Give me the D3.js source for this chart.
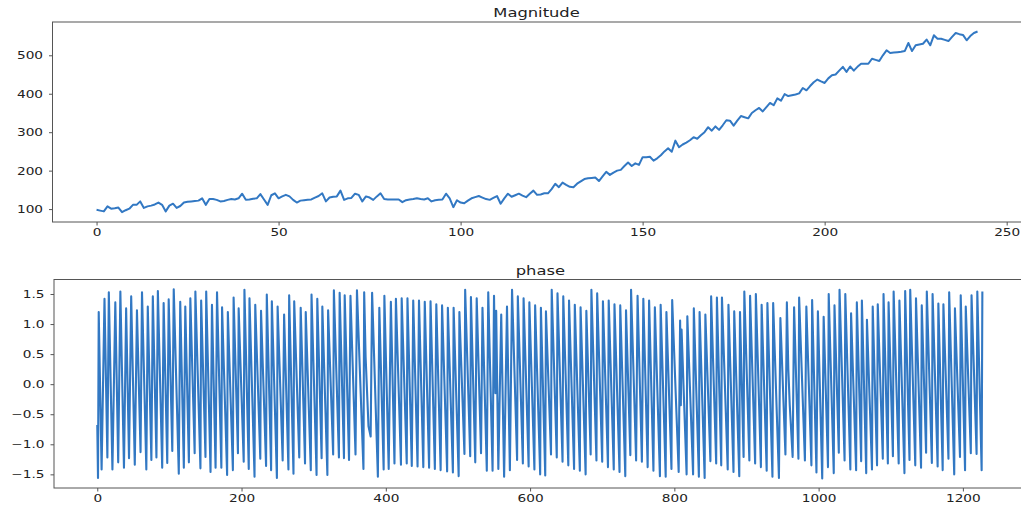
<!DOCTYPE html>
<html>
<head>
<meta charset="utf-8">
<script src="https://cdn.jsdelivr.net/npm/d3@7"></script>
<style>
  body { margin: 0; background: #fff; }
  svg text { font-family: "DejaVu Sans", sans-serif; fill: #222; }
</style>
</head>
<body>
<div id="chart"></div>
<script>
// Magnitude, one value per sample index 0..242
const magnitude = [
  98, 96, 94, 107, 101, 102, 104, 92, 97, 101,
  111, 111, 120, 103, 107, 109, 112, 117, 111, 94,
  109, 114, 103, 108, 117, 119, 120, 121, 122, 128,
  111, 126, 126, 124, 120, 121, 124, 126, 125, 128,
  140, 124, 125, 127, 128, 139, 125, 111, 136, 141,
  128, 133, 137, 133, 124, 117, 122, 123, 124, 125,
  130, 134, 141, 120, 130, 132, 133, 148, 124, 128,
  129, 140, 137, 120, 133, 130, 124, 133, 141, 126,
  125, 125, 125, 125, 118, 123, 125, 126, 128, 126,
  125, 128, 120, 123, 124, 125, 140, 128, 105, 123,
  117, 115, 122, 128, 131, 134, 130, 126, 124, 129,
  134, 114, 128, 140, 132, 136, 140, 135, 131, 140,
  148, 137, 138, 141, 141, 152, 166, 157, 169, 163,
  158, 157, 166, 172, 178, 180, 181, 182, 173, 185,
  197, 189, 195, 200, 202, 212, 221, 212, 219, 215,
  235, 235, 236, 226, 232, 240, 250, 258, 249, 278,
  261, 268, 273, 279, 287, 283, 292, 300, 313, 304,
  315, 306, 318, 331, 330, 317, 330, 342, 339, 336,
  350, 357, 363, 354, 365, 376, 370, 388, 382, 399,
  394, 396, 398, 401, 415, 409, 420, 430, 437, 432,
  428, 440, 448, 450, 460, 470, 457, 471, 460, 470,
  478, 478, 478, 491, 488, 485, 500, 513, 506, 507,
  508, 509, 511, 532, 511, 526, 528, 530, 541, 526,
  552, 543, 543, 540, 537, 548, 558, 555, 553, 539,
  550, 558, 562
];

const phaseX = [
  0, 1, 2, 6, 10, 14, 16, 21, 25, 29,
  32, 37, 40, 44, 47, 52, 55, 60, 62, 68,
  70, 75, 77, 82, 84, 90, 92, 97, 99, 104,
  106, 113, 115, 120, 122, 127, 129, 135, 136, 143,
  144, 150, 151, 157, 159, 164, 166, 172, 173, 180,
  181, 188, 189, 195, 196, 203, 204, 210, 211, 218,
  219, 226, 227, 234, 235, 241, 242, 249, 250, 257,
  259, 265, 266, 272, 273, 280, 282, 288, 289, 296,
  297, 304, 305, 311, 312, 319, 320, 327, 328, 335,
  336, 342, 343, 349, 351, 358, 360, 369, 370, 372,
  376, 379, 381, 389, 391, 397, 398, 404, 407, 412,
  414, 421, 422, 429, 430, 436, 438, 444, 446, 452,
  454, 460, 462, 468, 470, 476, 478, 485, 486, 493,
  494, 501, 502, 509, 510, 517, 518, 524, 526, 532,
  534, 540, 542, 548, 550, 552, 553, 556, 560, 564,
  568, 572, 575, 582, 583, 590, 591, 598, 599, 606,
  607, 614, 615, 621, 622, 629, 630, 637, 638, 645,
  646, 653, 654, 661, 662, 669, 670, 677, 678, 684,
  685, 692, 693, 700, 701, 708, 709, 716, 717, 724,
  725, 732, 733, 739, 740, 747, 749, 755, 757, 763,
  765, 771, 773, 780, 781, 788, 789, 796, 797, 806,
  808, 809, 810, 817, 818, 826, 827, 834, 835, 842,
  843, 850, 851, 858, 859, 865, 866, 874, 875, 882,
  883, 890, 891, 896, 897, 904, 905, 912, 913, 920,
  921, 928, 929, 936, 937, 945, 947, 954, 956, 958,
  960, 964, 966, 972, 973, 981, 983, 990, 991, 997,
  999, 1005, 1007, 1013, 1014, 1021, 1022, 1028, 1029, 1036,
  1037, 1044, 1045, 1052, 1053, 1059, 1060, 1066, 1067, 1074,
  1075, 1081, 1082, 1089, 1090, 1096, 1097, 1103, 1104, 1111,
  1112, 1119, 1120, 1126, 1127, 1134, 1135, 1142, 1143, 1149,
  1150, 1157, 1158, 1165, 1166, 1172, 1173, 1180, 1181, 1188,
  1189, 1196, 1197, 1203, 1204, 1211, 1212, 1219, 1220, 1226,
  1227
];
// ...and its value there
const phaseY = [
  -0.68, -1.56, 1.20, -1.42, 1.42, -1.22, 1.53, -1.42, 1.36, -1.30,
  1.54, -1.39, 1.26, -1.23, 1.46, -1.34, 1.23, -1.13, 1.53, -1.42,
  1.29, -1.26, 1.46, -1.22, 1.55, -1.39, 1.35, -1.31, 1.41, -1.11,
  1.58, -1.49, 1.37, -1.39, 1.29, -1.30, 1.43, -1.15, 1.54, -1.40,
  1.39, -1.21, 1.54, -1.46, 1.32, -1.39, 1.53, -1.39, 1.28, -1.51,
  1.20, -1.43, 1.44, -1.15, 1.26, -1.29, 1.57, -1.41, 1.43, -1.54,
  1.32, -1.24, 1.22, -1.36, 1.49, -1.43, 1.38, -1.56, 1.29, -1.27,
  1.16, -1.42, 1.48, -1.49, 1.38, -1.22, 1.27, -1.32, 1.20, -1.43,
  1.49, -1.51, 1.42, -1.23, 1.29, -1.51, 1.23, -1.17, 1.56, -1.22,
  1.52, -1.23, 1.48, -1.26, 1.47, -1.17, 1.56, -1.41, 1.53, 0.45,
  -0.70, -0.87, 1.52, -1.54, 1.27, -1.42, 1.47, -1.41, 1.37, -1.32,
  1.42, -1.34, 1.43, -1.32, 1.43, -1.36, 1.39, -1.37, 1.39, -1.38,
  1.37, -1.39, 1.38, -1.41, 1.33, -1.43, 1.31, -1.45, 1.27, -1.47,
  1.27, -1.53, 1.20, -1.16, 1.57, -1.20, 1.45, -1.30, 1.43, -1.15,
  1.27, -1.44, 1.53, -1.44, 1.47, -0.15, 1.22, -1.41, 1.16, -1.54,
  1.29, -1.43, 1.57, -1.26, 1.46, -1.32, 1.43, -1.37, 1.36, -1.42,
  1.31, -1.50, 1.27, -1.52, 1.21, -1.17, 1.57, -1.22, 1.51, -1.29,
  1.46, -1.35, 1.39, -1.41, 1.32, -1.44, 1.28, -1.50, 1.22, -1.17,
  1.57, -1.27, 1.51, -1.29, 1.38, -1.38, 1.39, -1.42, 1.33, -1.46,
  1.31, -1.53, 1.23, -1.18, 1.57, -1.27, 1.47, -1.29, 1.42, -1.38,
  1.39, -1.44, 1.28, -1.53, 1.32, -1.54, 1.20, -1.41, 1.40, -1.46,
  1.06, -0.35, 0.91, -1.50, 1.13, -1.50, 1.26, -1.54, 1.20, -1.56,
  1.16, -1.28, 1.46, -1.32, 1.44, -1.35, 1.44, -1.42, 1.32, -1.46,
  1.21, -1.53, 1.20, -1.21, 1.54, -1.27, 1.47, -1.32, 1.50, -1.38,
  1.32, -1.44, 1.35, -1.54, 1.35, -1.56, 1.10, -1.17, 1.36, 0.25,
  -0.35, -1.21, 1.28, -1.24, 1.44, -1.27, 1.29, -1.35, 1.40, -1.47,
  1.21, -1.57, 1.12, -1.38, 1.50, -1.48, 1.31, -1.14, 1.57, -1.27,
  1.50, -1.42, 1.18, -1.43, 1.36, -1.28, 1.39, -1.48, 1.07, -1.42,
  1.29, -1.35, 1.33, -1.24, 1.50, -1.32, 1.36, -1.20, 1.54, -1.32,
  1.39, -1.48, 1.55, -1.26, 1.57, -1.35, 1.43, -1.39, 1.31, -1.14,
  1.54, -1.31, 1.50, -1.37, 1.34, -1.43, 1.33, -1.24, 1.53, -1.50,
  1.26, -1.21, 1.48, -1.43, 1.29, -1.15, 1.48, -1.16, 1.54, -1.43,
  1.54
];

const magXTicks = [0, 50, 100, 150, 200, 250];
const magYTicks = [100, 200, 300, 400, 500];
const phaseXTicks = [0, 200, 400, 600, 800, 1000, 1200];
const phaseYTicks = [-1.5, -1.0, -0.5, 0.0, 0.5, 1.0, 1.5];

const width = 1021, height = 505;
const lineColor = "#3278c3";
const stretchK = 1.3;

const svg = d3.select("#chart").append("svg")
  .attr("width", width)
  .attr("height", height);

// widen text horizontally like the (stretched) reference
function stretch(sel, k) {
  sel.each(function() {
    const w = this.getComputedTextLength();
    d3.select(this).attr("textLength", w * k).attr("lengthAdjust", "spacingAndGlyphs");
  });
}

function panel(opts) {
  const { left, right, top, bottom, xDomain, yDomain, xTicks, yTicks, yFmt, title, points, id, lw } = opts;
  const x = d3.scaleLinear().domain(xDomain).range([left, right]);
  const y = d3.scaleLinear().domain(yDomain).range([bottom, top]);

  svg.append("clipPath").attr("id", id)
    .append("rect")
    .attr("x", left).attr("y", top)
    .attr("width", right - left).attr("height", bottom - top);

  const line = d3.line().x(d => x(d[0])).y(d => y(d[1]));
  svg.append("path")
    .datum(points)
    .attr("clip-path", `url(#${id})`)
    .attr("fill", "none")
    .attr("stroke", lineColor)
    .attr("stroke-width", lw)
    .attr("stroke-linejoin", "round")
    .attr("d", line);

  // frame
  svg.append("rect")
    .attr("x", left).attr("y", top)
    .attr("width", right - left).attr("height", bottom - top)
    .attr("fill", "none")
    .attr("stroke", "#555")
    .attr("stroke-width", 1);

  const gx = svg.append("g")
    .attr("transform", `translate(0,${bottom})`)
    .call(d3.axisBottom(x).tickValues(xTicks).tickSize(3.5).tickPadding(3.5).tickSizeOuter(0).tickFormat(d3.format("d")));
  const gy = svg.append("g")
    .attr("transform", `translate(${left},0)`)
    .call(d3.axisLeft(y).tickValues(yTicks).tickSize(3.5).tickPadding(6).tickSizeOuter(0).tickFormat(yFmt));

  [gx, gy].forEach(g => {
    g.select(".domain").remove();
    g.selectAll(".tick line").attr("stroke", "#555");
    g.selectAll("text")
      .attr("fill", "#222")
      .style("font-family", "DejaVu Sans")
      .style("font-size", "10.5px");
  });
  stretch(gx.selectAll("text"), stretchK);
  stretch(gy.selectAll("text"), stretchK);

  const t = svg.append("text")
    .attr("x", (left + right) / 2 - 0.5)
    .attr("y", top - 5)
    .attr("text-anchor", "middle")
    .style("font-size", "12px")
    .text(title);
  stretch(t, 1.36);
}

panel({
  id: "clipMag",
  left: 52.5, right: 1021.6, top: 22, bottom: 222,
  xDomain: [-12.1, 254.1], yDomain: [66.4, 586.6],
  xTicks: magXTicks, yTicks: magYTicks,
  yFmt: d3.format("d"),
  title: "Magnitude",
  lw: 2,
  points: magnitude.map((v, i) => [i, v])
});

panel({
  id: "clipPhase",
  left: 54, right: 1027.8, top: 279.5, bottom: 488,
  xDomain: [-60, 1290], yDomain: [-1.727, 1.741],
  xTicks: phaseXTicks, yTicks: phaseYTicks,
  yFmt: d => d.toFixed(1).replace("-", "\u2212"),
  title: "phase",
  lw: 2.1,
  points: d3.zip(phaseX, phaseY)
});
</script>
</body>
</html>
